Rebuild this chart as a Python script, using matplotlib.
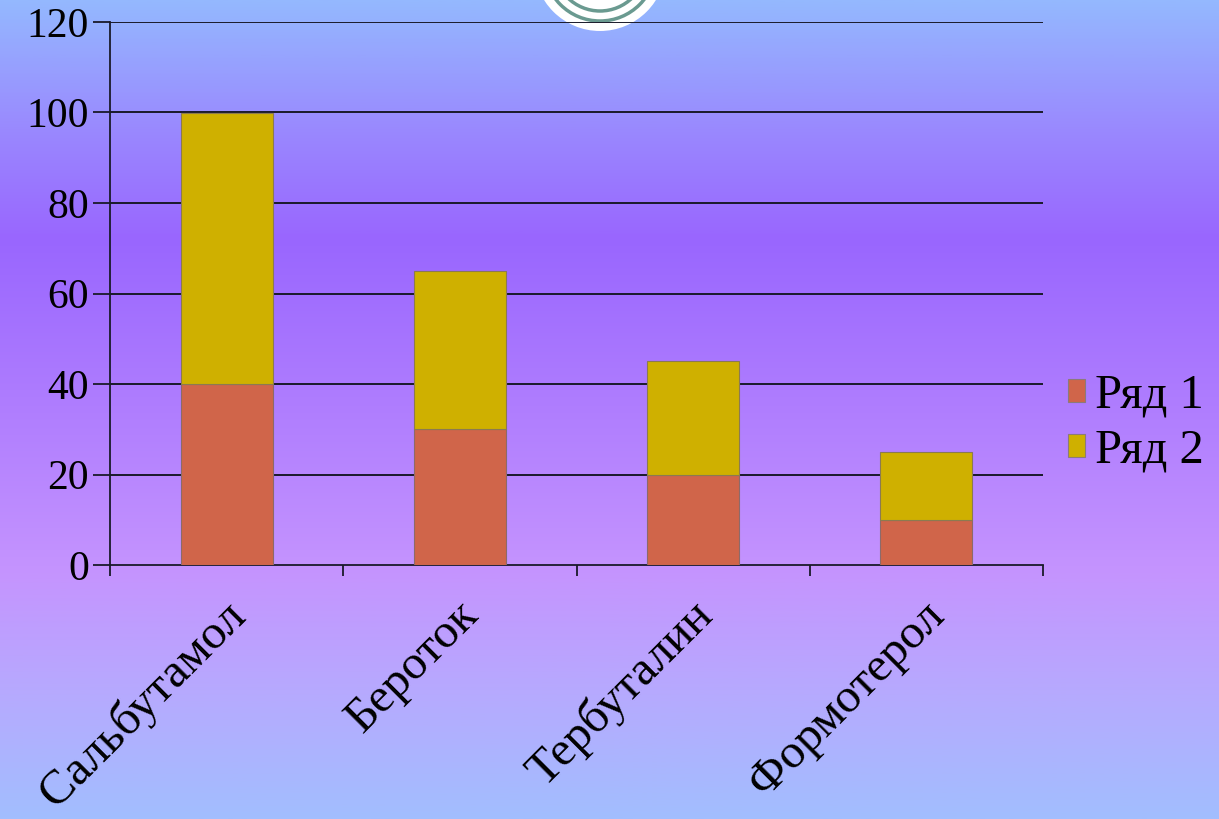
import numpy as np
import matplotlib
matplotlib.use("Agg")
import matplotlib.pyplot as plt
from matplotlib.colors import LinearSegmentedColormap
from matplotlib.patches import Ellipse

categories = ["Сальбутамол", "Бероток", "Тербуталин", "Формотерол"]
series1 = [40, 30, 20, 10]
series2 = [60, 35, 25, 15]
series_names = ["Ряд 1", "Ряд 2"]
yticks = [0, 20, 40, 60, 80, 100, 120]

plt.rcParams['font.family'] = ['Liberation Serif', 'DejaVu Serif']

W, H = 1219, 819
fig = plt.figure(figsize=(W / 100, H / 100), dpi=100)

# background gradient
bg = fig.add_axes([0, 0, 1, 1], zorder=-10)
stops = [(0.0, "#94B8FE"), (0.16, "#9A88FE"), (0.29, "#9966FF"),
         (0.70, "#C594FE"), (0.85, "#B6AAFE"), (1.0, "#A2BEFE")]
cmap = LinearSegmentedColormap.from_list("bg", stops)
grad = np.linspace(0, 1, 512).reshape(-1, 1)
bg.imshow(grad, aspect="auto", cmap=cmap, extent=[0, 1, 1, 0])
bg.set_xlim(0, 1); bg.set_ylim(1, 0)
bg.axis("off")

# decorative circle at top
r = 66
cx, cy = 600, -35
bg.add_patch(Ellipse((cx / W, cy / H), 2 * r / W, 2 * r / H, facecolor="white", edgecolor="none", zorder=2))
for rr in [46, 56]:
    bg.add_patch(Ellipse((cx / W, cy / H), 2 * rr / W, 2 * rr / H, facecolor="none",
                         edgecolor="#6A9A90", lw=2.5, zorder=3))

left, right = 110 / W, 1043 / W
bottom, top = 1 - 565 / H, 1 - 22 / H
ax = fig.add_axes([left, bottom, right - left, top - bottom])
ax.set_facecolor("none")

x = np.arange(len(categories))
w = 0.395
c1 = "#D0654A"
c2 = "#CFB000"
ax.bar(x, series1, width=w, color=c1, edgecolor="#8C6A6A", linewidth=0.8, label=series_names[0], zorder=3)
ax.bar(x, series2, width=w, bottom=series1, color=c2, edgecolor="#8C7A50", linewidth=0.8, label=series_names[1], zorder=3)

ax.set_xlim(-0.5, len(categories) - 0.5)
ax.set_ylim(0, 120)
ax.set_yticks(yticks)
ax.set_yticklabels([str(v) for v in yticks], fontsize=30)
for v in yticks[1:]:
    ax.axhline(v, color="#1A1A2A", lw=1.4, zorder=1)

ax.set_xticks(np.arange(-0.5, len(categories)))
ax.set_xticklabels([])
ax.tick_params(axis="x", direction="out", length=8, width=1.3, color="#1A1A2A")
ax.tick_params(axis="y", direction="out", length=12, width=1.3, color="#1A1A2A", pad=3)
for s in ["top", "right"]:
    ax.spines[s].set_visible(False)
ax.spines["left"].set_color("#1A1A2A"); ax.spines["left"].set_linewidth(1.3)
ax.spines["bottom"].set_color("#1A1A2A"); ax.spines["bottom"].set_linewidth(1.3)

for i, c in enumerate(categories):
    ax.annotate(c, xy=(x[i], 0), xycoords="data", xytext=(-3, -20), textcoords="offset points",
                rotation=45, ha="right", va="top", fontsize=35, rotation_mode="anchor")

leg = fig.legend(loc="upper left", bbox_to_anchor=(1068 / W, 1 - 374 / H), frameon=False,
                 fontsize=35, handlelength=0.35, handleheight=0.35, handletextpad=0.2,
                 labelspacing=0.22, borderaxespad=0, borderpad=0)
for hnd in leg.legend_handles:
    hnd.set_edgecolor("#8C7A7A")

fig.savefig("out.png", dpi=100)
